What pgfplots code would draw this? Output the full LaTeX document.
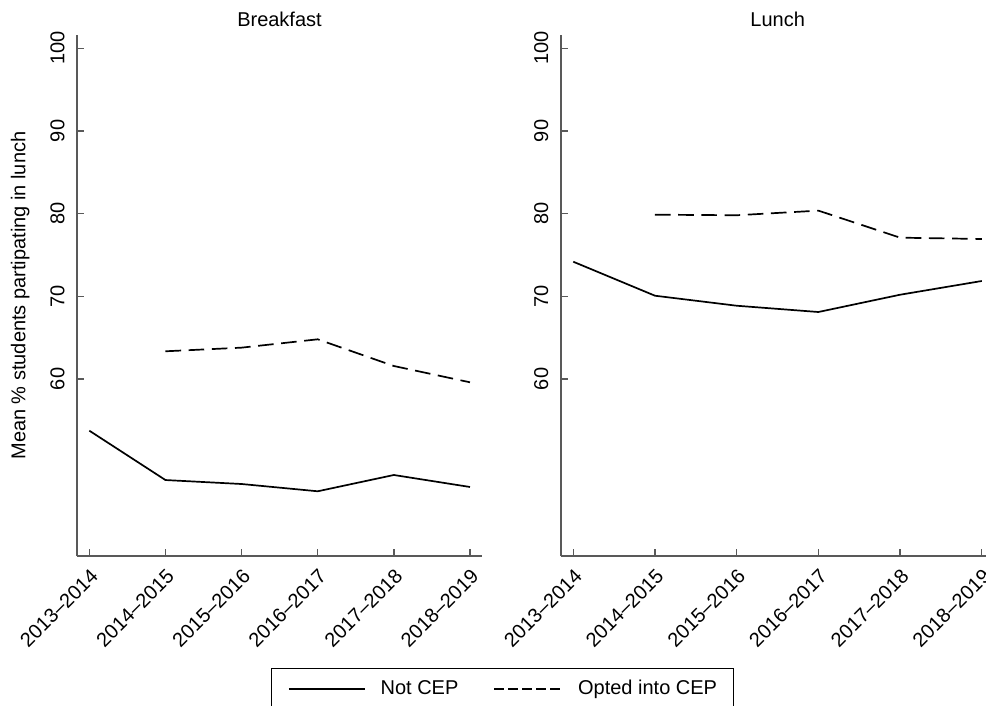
\documentclass[border=0pt]{standalone}
\usepackage{fontspec}
\setmainfont{Liberation Sans}
\usepackage{pgfplots}
\pgfplotsset{compat=1.18}

\pgfplotstableread{
x y
0 53.75
1 47.78
2 47.30
3 46.42
4 48.39
5 46.94
}\bnot
\pgfplotstableread{
x y
1 63.35
2 63.79
3 64.80
4 61.57
5 59.60
}\bcep
\pgfplotstableread{
x y
0 74.18
1 70.07
2 68.86
3 68.10
4 70.19
5 71.85
}\lnot
\pgfplotstableread{
x y
1 79.87
2 79.80
3 80.36
4 77.09
5 76.93
}\lcep

\tikzset{
  solidl/.style={black, line width=0.85bp, solid},
  dashl/.style={black, line width=0.85bp, dash pattern=on 7.8bp off 3.8bp},
  dashleg/.style={black, line width=0.85bp, dash pattern=on 5bp off 2bp},
}
\pgfplotsset{
  mystyle/.style={
    scale only axis,
    anchor=south west,
    height=260.6bp,
    ymin=38.57, ymax=101.6,
    axis x line*=bottom, axis y line*=left,
    axis line style={-, black!65, line width=0.9bp},
    every tick/.style={black!65, line width=0.7bp},
    xtick align=inside, ytick align=inside,
    xtick pos=bottom, ytick pos=left,
    major tick length=3.6bp,
    ytick={60,70,80,90,100},
    xtick={0,1,2,3,4,5},
    xticklabels={2013--2014,2014--2015,2015--2016,2016--2017,2017--2018,2018--2019},
    yticklabel style={rotate=90, anchor=south, inner sep=0pt},
    yticklabel shift=6bp,
    xticklabel style={rotate=45, anchor=north east, inner sep=0pt},
    xticklabel shift=5.5bp,
    /pgf/number format/assume math mode=true,
    title style={at={(0.5,1)}, anchor=base, yshift=-1.5bp},
    clip=false,
  },
}

\begin{document}
\begin{tikzpicture}[font=\fontsize{10bp}{12bp}\selectfont]
\useasboundingbox (0,0) rectangle (493bp,353bp);
\begin{axis}[mystyle,
  at={(38.5bp,74.9bp)}, width=202.5bp,
  xmin=-0.162, xmax=5.158,
  title={Breakfast},
  ylabel={Mean \% students partipating in lunch},
  ylabel style={at={(axis description cs:-0.14,0.5)}, anchor=center},
  legend columns=2,
  legend style={at={(axis description cs:1.0506,-0.2552)}, anchor=center,
    draw=black, line width=0.55bp, inner xsep=8bp, inner ysep=5.8bp,
    font=\fontsize{10bp}{12bp}\selectfont,
    nodes={inner sep=0pt},
    /tikz/every odd column/.append style={column sep=7.5bp},
    /tikz/every even column/.append style={column sep=17.5bp}},
]
\addplot[solidl, legend image code/.code={\draw[solidl] (0bp,0bp) -- (38bp,0bp);}] table {\bnot};
\addlegendentry{Not CEP}
\addplot[dashl, legend image code/.code={\draw[dashleg] (0bp,0bp) -- (34bp,0bp);}] table {\bcep};
\addlegendentry{Opted into CEP}
\end{axis}
\begin{axis}[mystyle,
  at={(280.35bp,74.9bp)}, width=217bp,
  xmin=-0.154, xmax=5.158,
  title={Lunch},
]
\addplot[solidl] table {\lnot};
\addplot[dashl] table {\lcep};
\end{axis}
\end{tikzpicture}
\end{document}
